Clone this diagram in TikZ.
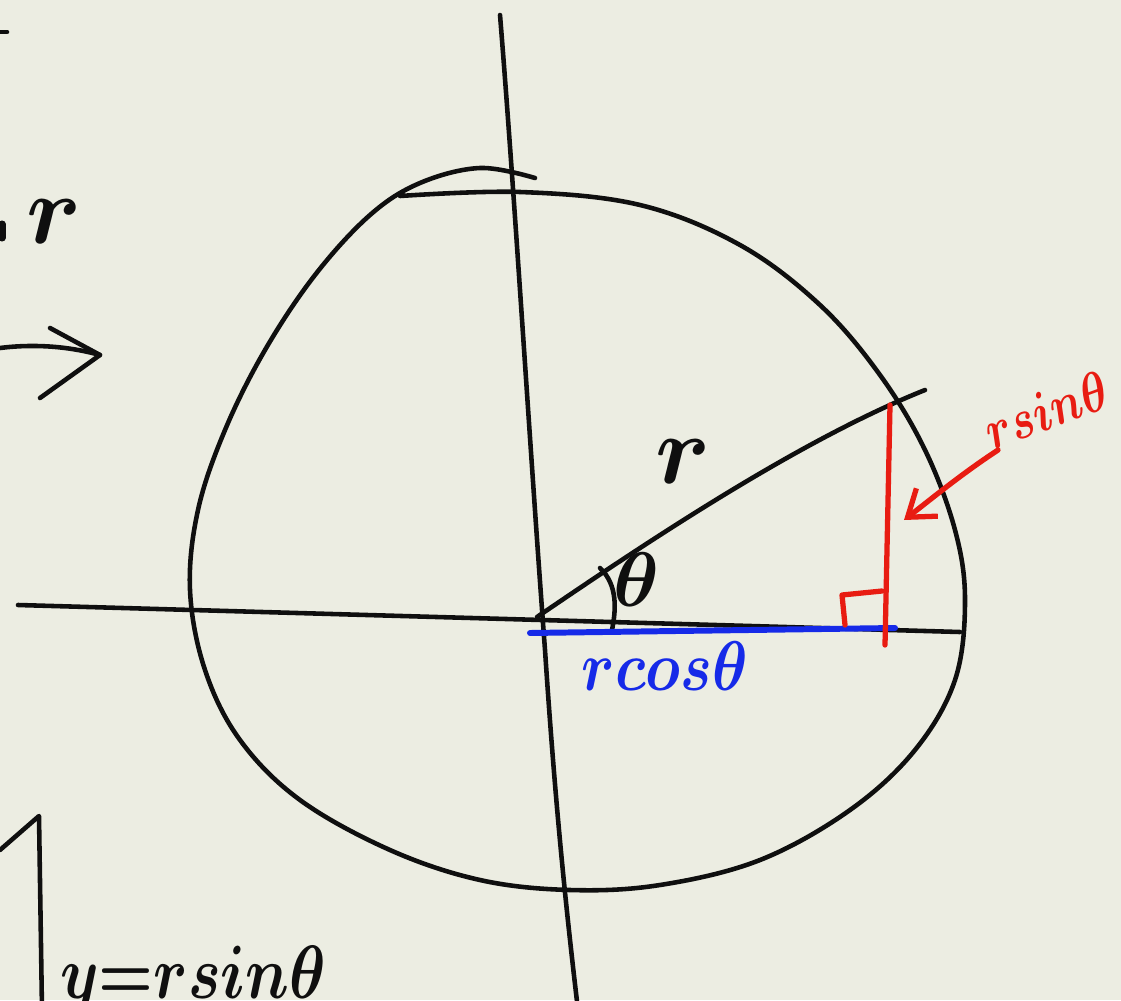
\documentclass[tikz,border=0pt]{standalone}
\usetikzlibrary{arrows.meta}
\definecolor{paper}{RGB}{236,237,226}
\definecolor{pen}{RGB}{15,15,15}
\definecolor{redpen}{RGB}{232,28,18}
\definecolor{bluepen}{RGB}{22,42,232}
\begin{document}
\begin{tikzpicture}[x=0.02cm,y=-0.02cm,
  ink/.style={line width=2.6pt,line cap=round,line join=round,draw=pen},
  redink/.style={line width=3pt,line cap=round,line join=round,draw=redpen},
  blueink/.style={line width=3.4pt,line cap=round,draw=bluepen},
  lbl/.style={inner sep=0pt,text=pen,font=\boldmath,transform shape}]
\useasboundingbox (0,0) rectangle (1121,1000);
\fill[paper] (0,0) rectangle (1121,1000);
\clip (0,0) rectangle (1121,1000);
% axes
\draw[ink] (500,15) .. controls (515,200) and (530,450) .. (545,650) .. controls (555,800) and (565,900) .. (578,1010);
\coordinate (O) at (537,617);
\coordinate (Hl) at (18,605);
\coordinate (Hr) at (960,632);
\draw[ink] (Hl) -- (Hr);
% circle-like outline
\draw[ink] plot[smooth,tension=0.6] coordinates {(400,196) (520,192) (640,205) (740,245) (820,305) (880,375) (925,450) (955,530) (965,600) (955,680) (915,750) (850,810) (760,860) (660,885) (570,890) (480,880) (390,850) (300,800) (240,740) (205,670) (190,590) (198,510) (225,430) (265,350) (315,275) (370,215) (420,183) (480,168) (535,178)};
% radius
\coordinate (P) at (925,390);
\draw[ink] (O) .. controls (650,540) and (800,440) .. (P);
\node[lbl] (rlab) at (683,462) {\scalebox{5.6}{$r$}};
% angle
\draw[ink] (600,568) .. controls (618,585) and (616,610) .. (612,630);
\node[lbl] (thlab) at (636,580) {\scalebox{4.4}{$\theta$}};
% blue r cos
\coordinate (B1) at (530,633);
\coordinate (B2) at (895,628);
\draw[blueink] (B1) -- (B2);
\node[lbl,text=bluepen] (rcos) at (665,666) {\scalebox{3.4}[4]{$rcos\theta$}};
% red r sin
\coordinate (R1) at (890,405);
\coordinate (R2) at (885,645);
\draw[redink] (R1) -- (R2);
\draw[redink] (845,625) -- (842,595) -- (882,591);
\coordinate (A1) at (998,450);
\coordinate (A2) at (904,520);
\draw[redink,-{Straight Barb[length=14pt,width=20pt]}] (A1) .. controls (960,475) and (930,500) .. (A2);
\node[lbl,text=redpen,rotate=20] (rsin) at (1046,410) {\scalebox{2.6}[3.2]{$rsin\theta$}};
% left margin fragments
\draw[ink] (0,32) -- (7,32);
\draw[ink,line width=4pt] (2,224) -- (2,238);
\node[lbl,anchor=base west] (rleft) at (26,243) {\scalebox{5.6}{$r$}};
\coordinate (L1) at (0,348);
\coordinate (L2) at (100,355);
\draw[ink] (L1) .. controls (40,343) and (75,348) .. (L2);
\draw[ink] (50,328) -- (L2) -- (40,398);
\coordinate (K0) at (0,850);
\coordinate (K1) at (39,816);
\coordinate (K2) at (42,1010);
\draw[ink] (K0) -- (K1) -- (K2);
\node[lbl,anchor=base west] (yeq) at (60,998) {\scalebox{3.5}[4.3]{$y{=}rsin\theta$}};
\end{tikzpicture}
\end{document}
